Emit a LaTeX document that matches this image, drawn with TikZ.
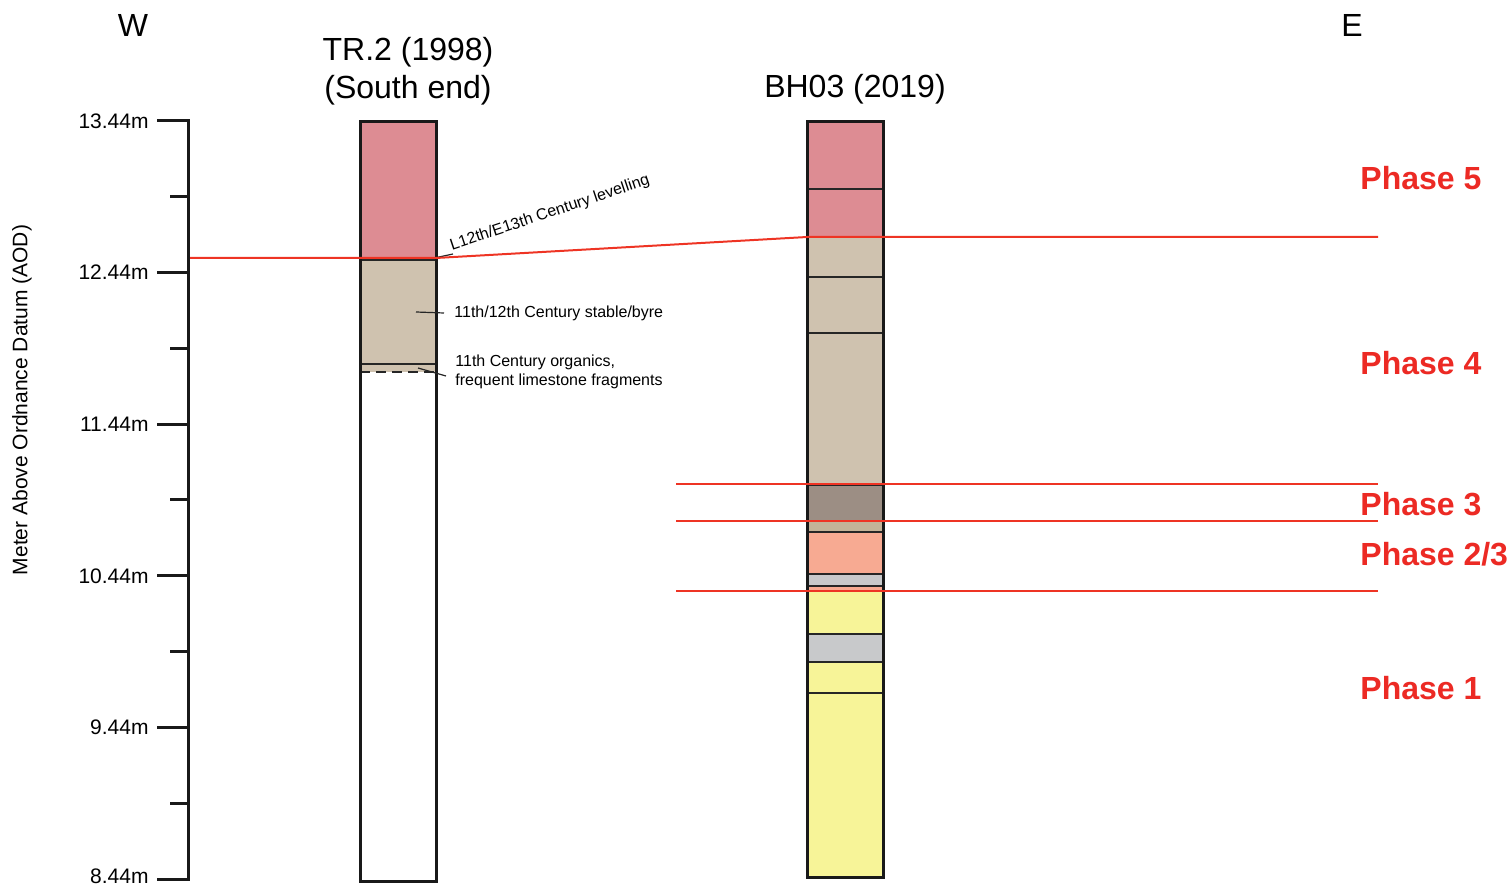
\documentclass[tikz,border=0pt]{standalone}
\usepackage{fontspec}
\setmainfont{Liberation Sans}
\usetikzlibrary{positioning}
\definecolor{LayPink}{HTML}{DD8C93}
\definecolor{LayTan}{HTML}{CFC2AF}
\definecolor{LayDark}{HTML}{9C8E84}
\definecolor{LayBuff}{HTML}{C3B398}
\definecolor{LaySalmon}{HTML}{F7AA92}
\definecolor{LayGrey}{HTML}{C8C9CB}
\definecolor{LayYellow}{HTML}{F7F498}
\definecolor{PhaseRed}{HTML}{EC2A24}
\definecolor{LineRed}{HTML}{EE3424}

\begin{document}
\begin{tikzpicture}[x=0.5pt,y=-0.5pt,
    title/.style={font=\fontsize{16}{19}\selectfont, inner sep=0pt},
    depth/.style={font=\fontsize{10.5}{12}\selectfont, anchor=east, inner sep=0pt},
    note/.style={font=\fontsize{8}{9.5}\selectfont, inner sep=0pt, align=left},
    phase/.style={font=\fontsize{16}{19}\selectfont\bfseries, text=PhaseRed, anchor=west, inner sep=0pt},
    redline/.style={LineRed, line width=1pt},
    layerline/.style={black!85, line width=0.6pt},
    core/.style={black!90, line width=1.5pt}]
  \useasboundingbox (0,0) rectangle (1510,887);

  % titles
  \node[title] (west) at (133,25) {W};
  \node[title] (east) at (1352,25) {E};
  \node[title, align=center] (trtitle) at (408,71) {TR.2 (1998)\\(South end)};
  \node[title] (bhtitle) at (855,89) {BH03 (2019)};

  % depth axis
  \node[rotate=90, font=\fontsize{10.5}{12}\selectfont] (aod) at (22,400) {Meter Above Ordnance Datum (AOD)};
  \draw[core] (157,121) -- (188,121) -- (188,879) -- (157,879);
  \foreach \i/\lab in {0/13.44m,1/12.44m,2/11.44m,3/10.44m,4/9.44m}{
    \draw[core] (157,121+151.6*\i) -- (188,121+151.6*\i);
    \node[depth] (d\i) at (149,121+151.6*\i) {\lab};
  }
  \node[depth] (d5) at (149,876) {8.44m};
  \foreach \i in {0,...,4}
    \draw[core] (170,196.8+151.6*\i) -- (188,196.8+151.6*\i);

  % TR.2 column
  \fill[LayPink] (360,122) rectangle (436,260);
  \fill[LayTan] (360,260) rectangle (436,372);
  \draw[layerline] (360,260) -- (436,260);
  \draw[layerline] (360,364) -- (436,364);
  \draw[layerline, dashed, dash pattern=on 5pt off 3pt] (360,372) -- (436,372);
  \draw[core] (360,122) rectangle (436,881);

  % BH03 column
  \foreach \top/\bot/\col in {122/189/LayPink, 189/237/LayPink, 237/277/LayTan,
      277/333/LayTan, 333/485/LayTan, 485/521/LayDark, 521/532/LayBuff,
      532/574/LaySalmon, 574/586/LayGrey, 586/591/LaySalmon, 591/634/LayYellow,
      634/662/LayGrey, 662/693/LayYellow, 693/877/LayYellow}
    \filldraw[fill=\col, draw=black!85, line width=0.6pt] (807,\top) rectangle (883,\bot);
  \draw[core] (807,122) rectangle (883,877);

  % annotations
  \coordinate (lvlpt) at (425,260);
  \node[note, rotate=18.5, anchor=south west] (lvl) at (453,254) {L12th/E13th Century levelling};
  \draw[layerline] (lvlpt) -- (lvl.south west);
  \coordinate (byrept) at (416,312);
  \node[note, anchor=west] (byre) at (454,313) {11th/12th Century stable/byre};
  \draw[layerline] (byrept) -- ([xshift=-5pt]byre.west);
  \coordinate (orgpt) at (418,368);
  \node[note, anchor=west] (org) at (455,372) {11th Century organics,\\frequent limestone fragments};
  \draw[layerline] (orgpt) -- ([xshift=-4.5pt,yshift=-2pt]org.west);

  % phase boundaries
  \coordinate (p5a) at (190,258);
  \coordinate (p5b) at (436,258);
  \coordinate (p5c) at (807,237);
  \coordinate (p5d) at (1378,237);
  \draw[redline] (p5a) -- (p5b) -- (p5c) -- (p5d);
  \foreach \y [count=\k] in {484,521,591}{
    \coordinate (bL\k) at (676,\y);
    \coordinate (bR\k) at (1378,\y);
    \draw[redline] (bL\k) -- (bR\k);
  }

  % phase labels
  \node[phase] (ph5) at (1360,178) {Phase 5};
  \node[phase] (ph4) at (1360,363) {Phase 4};
  \node[phase] (ph3) at (1360,504) {Phase 3};
  \node[phase] (ph23) at (1360,554) {Phase 2/3};
  \node[phase] (ph1) at (1360,688) {Phase 1};
\end{tikzpicture}
\end{document}
